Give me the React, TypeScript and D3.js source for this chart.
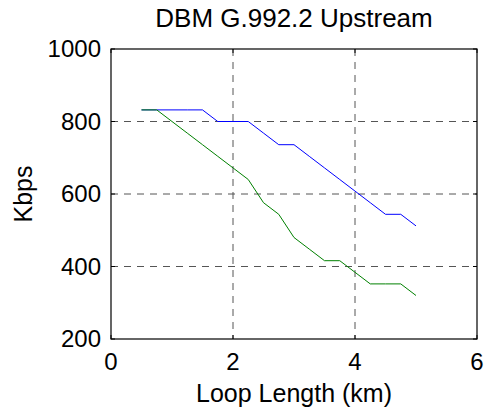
import React from "react";
import * as d3 from "d3";

const loopKm = [0.5, 0.75, 1.0, 1.25, 1.5, 1.75, 2.0, 2.25, 2.5, 2.75, 3.0, 3.25, 3.5, 3.75, 4.0, 4.25, 4.5, 4.75, 5.0];
const blueKbps = [832, 832, 832, 832, 832, 800, 800, 800, 768, 736, 736, 704, 672, 640, 608, 576, 544, 544, 512];
const greenKbps = [832, 832, 800, 768, 736, 704, 672, 640, 576, 544, 480, 448, 416, 416, 384, 352, 352, 352, 320];
const xTicks = [0, 2, 4, 6];
const yTicks = [200, 400, 600, 800, 1000];
const title = "DBM G.992.2 Upstream";
const xLabel = "Loop Length (km)";
const yLabel = "Kbps";

const W = 488;
const H = 414;
const L = 111, R = 477, T = 49, B = 339;
const FONT = "'Liberation Sans', Arial, sans-serif";

export default function App() {
  const x = d3.scaleLinear().domain([0, 6]).range([L, R]);
  const y = d3.scaleLinear().domain([200, 1000]).range([B, T]);
  const line = d3.line<number>().x((_, i) => x(loopKm[i])).y((d) => y(d));
  const gridX = xTicks.filter((t) => t !== 0 && t !== 6);
  const gridY = yTicks.filter((t) => t !== 200 && t !== 1000);
  return (
    <svg width={W} height={H} style={{ position: "absolute", left: 0, top: 0, background: "#fff" }}>
      <rect x={0} y={0} width={W} height={H} fill="#fff" />
      {gridX.map((t) => (
        <line key={"gx" + t} x1={x(t)} x2={x(t)} y1={T} y2={B} stroke="#555" strokeWidth={1} strokeDasharray="7,6" />
      ))}
      {gridY.map((t) => (
        <line key={"gy" + t} x1={L} x2={R} y1={y(t)} y2={y(t)} stroke="#555" strokeWidth={1} strokeDasharray="7,6" />
      ))}
      <path d={line(blueKbps) || ""} fill="none" stroke="#0000ff" strokeWidth={1} />
      <path d={line(greenKbps) || ""} fill="none" stroke="#008000" strokeWidth={1} />
      <rect x={L} y={T} width={R - L} height={B - T} fill="none" stroke="#000" strokeWidth={1.2} />
      {xTicks.map((t) => (
        <g key={"xt" + t}>
          <line x1={x(t)} x2={x(t)} y1={B} y2={B - 4} stroke="#000" />
          <line x1={x(t)} x2={x(t)} y1={T} y2={T + 4} stroke="#000" />
          <text x={x(t)} y={B + 31} textAnchor="middle" fontFamily={FONT} fontSize={24} fill="#000">{t}</text>
        </g>
      ))}
      {yTicks.map((t) => (
        <g key={"yt" + t}>
          <line x1={L} x2={L + 4} y1={y(t)} y2={y(t)} stroke="#000" />
          <line x1={R} x2={R - 4} y1={y(t)} y2={y(t)} stroke="#000" />
          <text x={L - 10} y={y(t) + 8} textAnchor="end" fontFamily={FONT} fontSize={24} fill="#000">{t}</text>
        </g>
      ))}
      <text x={(L + R) / 2} y={27} textAnchor="middle" fontFamily={FONT} fontSize={26} fill="#000">{title}</text>
      <text x={(L + R) / 2} y={402} textAnchor="middle" fontFamily={FONT} fontSize={25} fill="#000">{xLabel}</text>
      <text transform={`translate(31.5,${(T + B) / 2}) rotate(-90)`} textAnchor="middle" fontFamily={FONT} fontSize={25} fill="#000">{yLabel}</text>
    </svg>
  );
}
